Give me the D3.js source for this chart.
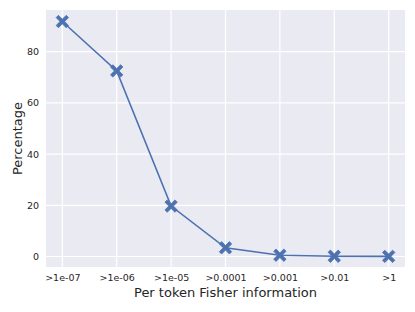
<!DOCTYPE html>
<html>
<head>
<meta charset="utf-8">
<script src="https://cdn.jsdelivr.net/npm/d3@7"></script>
<style>
  body { margin: 0; background: #fff; }
  text { font-family: "DejaVu Sans", sans-serif; }
</style>
</head>
<body>
<svg id="chart" width="415" height="312"></svg>
<script>
// categories and values
const categories = [">1e-07", ">1e-06", ">1e-05", ">0.0001", ">0.001", ">0.01", ">1"];
const percentages = [91.8, 72.5, 19.7, 3.4, 0.5, 0.1, 0.05];
const yTicks = [0, 20, 40, 60, 80];

const margin = {top: 10, right: 10, bottom: 45, left: 46};
const width = 415, height = 312;

const svg = d3.select("#chart");

// x: points spaced evenly, with some padding each side
const x = d3.scalePoint()
    .domain(categories)
    .range([margin.left, width - margin.right])
    .padding(0.3);

const y = d3.scaleLinear()
    .domain([-4.1, 96.3])
    .range([height - margin.bottom, margin.top]);

// seaborn darkgrid background
svg.append("rect")
    .attr("x", margin.left)
    .attr("y", margin.top)
    .attr("width", width - margin.left - margin.right)
    .attr("height", height - margin.top - margin.bottom)
    .attr("fill", "#eaeaf2");

// grid lines
svg.append("g").selectAll("line")
    .data(categories)
    .join("line")
    .attr("x1", d => x(d)).attr("x2", d => x(d))
    .attr("y1", margin.top).attr("y2", height - margin.bottom)
    .attr("stroke", "#fff").attr("stroke-width", 1.2);

svg.append("g").selectAll("line")
    .data(yTicks)
    .join("line")
    .attr("x1", margin.left).attr("x2", width - margin.right)
    .attr("y1", d => y(d)).attr("y2", d => y(d))
    .attr("stroke", "#fff").attr("stroke-width", 1.2);

// axes (no domain lines or tick marks, just labels)
const xAxis = svg.append("g")
    .attr("transform", `translate(0,${height - margin.bottom})`)
    .call(d3.axisBottom(x).tickSize(0).tickPadding(7));
xAxis.select(".domain").remove();
xAxis.selectAll("text").attr("font-size", 9.5).attr("fill", "#262626")
    .style("font-family", "DejaVu Sans");

const yAxis = svg.append("g")
    .attr("transform", `translate(${margin.left},0)`)
    .call(d3.axisLeft(y).tickValues(yTicks).tickSize(0).tickPadding(7));
yAxis.select(".domain").remove();
yAxis.selectAll("text").attr("font-size", 9.5).attr("fill", "#262626")
    .style("font-family", "DejaVu Sans");

// axis labels
svg.append("text")
    .attr("x", (margin.left + width - margin.right) / 2)
    .attr("y", 297)
    .attr("text-anchor", "middle")
    .attr("font-size", 13)
    .attr("fill", "#262626")
    .text("Per token Fisher information");

svg.append("text")
    .attr("transform", `translate(22,${(margin.top + height - margin.bottom) / 2}) rotate(-90)`)
    .attr("text-anchor", "middle")
    .attr("font-size", 13)
    .attr("fill", "#262626")
    .text("Percentage");

const points = categories.map((c, i) => ({c, v: percentages[i]}));

// line
svg.append("path")
    .datum(points)
    .attr("fill", "none")
    .attr("stroke", "#4c72b0")
    .attr("stroke-width", 1.6)
    .attr("d", d3.line().x(d => x(d.c)).y(d => y(d.v)));

// filled X markers
const s = 6.2, t = 2.3;
const xMarker = `M${-s + t},${-s} L0,${-t} L${s - t},${-s} L${s},${-s + t} L${t},0 L${s},${s - t} L${s - t},${s} L0,${t} L${-s + t},${s} L${-s},${s - t} L${-t},0 L${-s},${-s + t} Z`;

svg.append("g").selectAll("path")
    .data(points)
    .join("path")
    .attr("transform", d => `translate(${x(d.c)},${y(d.v)})`)
    .attr("d", xMarker)
    .attr("fill", "#4c72b0")
    .attr("stroke", "#4c72b0")
    .attr("stroke-width", 0.8)
    .attr("stroke-linejoin", "round");
</script>
</body>
</html>
